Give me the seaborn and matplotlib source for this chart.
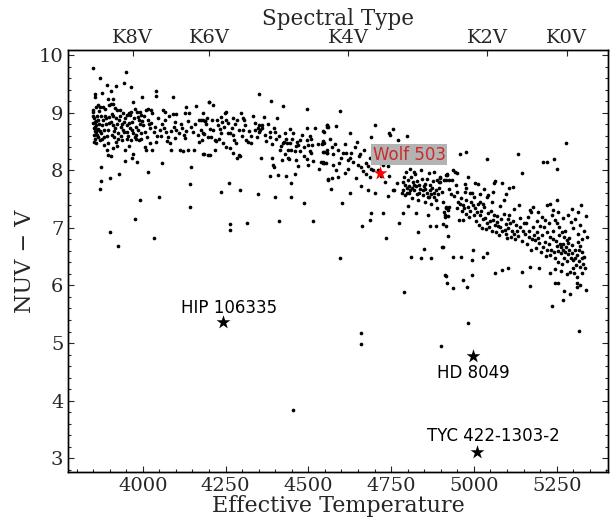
import numpy as np
import pandas as pd
import seaborn as sns
import matplotlib.pyplot as plt

# spectral type axis
spec_labels = ['K8V', 'K6V', 'K4V', 'K2V', 'K0V']
spec_teff = [3970, 4200, 4620, 5040, 5280]

# highlighted stars
named_stars = ['HIP 106335', 'HD 8049', 'TYC 422-1303-2']
named_teff = [4243, 4997, 5010]
named_nuv = [5.36, 4.78, 3.11]
wolf_teff = 4717
wolf_nuv = 7.96

# field stars (Teff, NUV-V)
stars_k8 = [
    (3851, 9.77), (3871, 9.61), (3948, 9.70), (3893, 9.49), (3918, 9.46), (3944, 9.51), (3965, 9.44),
    (3855, 9.33), (3876, 9.35), (3904, 9.38), (4039, 9.37), (4041, 9.29), (3997, 9.27), (4090, 9.27),
    (3971, 9.18), (3895, 9.24), (3911, 9.23), (3857, 9.27), (4131, 9.10), (4160, 9.11), (4199, 9.18),
    (3851, 9.04), (3849, 9.02), (3866, 9.13), (3871, 9.10), (3869, 9.03), (3881, 9.10), (3886, 9.06),
    (3897, 9.13), (3903, 9.16), (3911, 9.15), (3915, 9.09), (3921, 9.05), (3931, 9.05), (3939, 9.00),
    (3951, 8.96), (3959, 9.00), (3961, 8.96), (3963, 9.02), (3976, 9.06), (3983, 9.02), (3993, 9.02),
    (3996, 8.96), (4011, 9.05), (4016, 9.06), (4026, 9.05), (4029, 8.99), (4061, 9.05), (4066, 9.02),
    (4091, 8.98), (4101, 8.98), (4129, 9.00), (4141, 9.00), (4171, 8.88), (4181, 8.87), (4189, 8.86),
    (3853, 8.90), (3856, 8.84), (3859, 8.78), (3853, 8.73), (3861, 8.70), (3855, 8.76), (3866, 8.87),
    (3873, 8.94), (3881, 8.88), (3889, 8.80), (3899, 8.92), (3903, 8.84), (3909, 8.94), (3911, 8.78),
    (3916, 8.73), (3923, 8.81), (3929, 8.88), (3933, 8.76), (3939, 8.70), (3943, 8.84), (3951, 8.78),
    (3953, 8.67), (3961, 8.73), (3966, 8.84), (3971, 8.64), (3979, 8.76), (3986, 8.70), (3991, 8.80),
    (3999, 8.86), (4006, 8.67), (4016, 8.88), (4019, 8.81), (4021, 8.73), (4033, 8.67), (4051, 8.70),
    (4063, 8.73), (4071, 8.67), (4093, 8.76), (4101, 8.70), (4109, 8.65), (4119, 8.73), (4131, 8.69),
    (4146, 8.76), (4151, 8.67), (4166, 8.61), (4176, 8.70), (4186, 8.63), (4196, 8.58),
    (3859, 8.47), (3871, 8.52), (3876, 8.55), (3883, 8.44), (3891, 8.35), (3896, 8.26), (3903, 8.25),
    (3911, 8.38), (3919, 8.50), (3923, 8.42), (3936, 8.52), (3946, 8.35), (3951, 8.54), (3959, 8.42),
    (3969, 8.29), (3976, 8.57), (3981, 8.54), (3989, 8.52), (3996, 8.55), (4006, 8.40), (4011, 8.36),
    (4021, 8.47), (4029, 8.36), (4041, 8.50), (4073, 8.51), (4081, 8.48), (4086, 8.36), (4111, 8.35),
    (4121, 8.34), (4136, 8.36), (4156, 8.35), (4183, 8.28), (4196, 8.26), (3966, 8.21), (3946, 8.17),
    (3983, 8.15),
    (3852, 8.62), (3858, 8.66), (3864, 8.58), (3868, 8.80), (3862, 8.95), (3850, 8.82), (3857, 8.55),
    (3866, 8.72), (3875, 8.64), (3884, 8.70), (3892, 8.60), (3886, 8.95), (3896, 8.70), (3906, 8.62),
    (3914, 8.58), (3926, 8.64), (3934, 8.60), (3944, 8.66), (3956, 8.60), (3964, 8.52), (3974, 8.90),
    (3985, 8.92), (4001, 8.78), (4046, 8.90), (4056, 8.60), (4078, 8.94), (4096, 8.56), (4126, 8.56),
    (3850, 8.95), (3855, 8.68), (3860, 8.85), (3852, 8.50), (3863, 8.62), (3858, 9.10), (3870, 8.68),
    (3878, 8.78), (3882, 8.58), (3888, 8.90), (3894, 8.48), (3898, 8.82), (3906, 8.98), (3912, 8.68),
    (3918, 8.90), (3925, 8.55), (3930, 8.95), (3938, 8.80), (3947, 8.90), (3957, 8.82), (3968, 8.70),
    (3978, 8.62), (3988, 8.88), (3994, 8.64), (4004, 8.94), (4014, 8.58), (4026, 8.82), (4036, 8.75),
    (4044, 8.60), (4058, 8.80), (4068, 8.88), (4076, 8.58), (4086, 8.68), (4098, 8.84), (4114, 8.80),
    (4124, 8.62), (4138, 8.86), (4158, 8.80), (4170, 8.50),
]
stars_k8_low = [
    (3901, 6.92), (4035, 6.83), (3977, 7.16), (3992, 7.48), (4049, 7.54), (4143, 7.36), (4142, 7.77),
    (3870, 7.67), (3873, 7.81), (3873, 8.06), (3900, 7.86), (3927, 7.94), (4016, 7.97), (4058, 8.12),
    (4147, 8.06), (3925, 6.68),
]
stars_k6 = [
    (4201, 9.18), (4213, 9.14), (4351, 9.32), (4386, 9.21), (4422, 9.11), (4181, 8.99), (4195, 8.91),
    (4177, 8.87), (4187, 8.86), (4191, 8.80), (4210, 8.87), (4225, 8.87), (4237, 8.92), (4239, 8.84),
    (4251, 8.87), (4251, 9.01), (4249, 8.99), (4273, 8.90), (4285, 8.87), (4296, 8.99), (4303, 8.90),
    (4306, 8.87), (4333, 8.94), (4365, 8.93), (4351, 8.79), (4361, 8.79), (4355, 8.70), (4351, 8.66),
    (4405, 8.91), (4395, 8.73), (4398, 8.67), (4383, 8.67), (4383, 8.58), (4403, 8.54), (4373, 8.51),
    (4181, 8.65), (4178, 8.52), (4203, 8.71), (4213, 8.70), (4233, 8.71), (4235, 8.64), (4257, 8.65),
    (4263, 8.65), (4271, 8.61), (4207, 8.57), (4217, 8.52), (4221, 8.51), (4231, 8.55), (4243, 8.47),
    (4251, 8.41), (4263, 8.38), (4277, 8.52), (4281, 8.47), (4303, 8.70), (4321, 8.69), (4318, 8.50),
    (4328, 8.48), (4313, 8.52), (4338, 8.70), (4348, 8.73), (4361, 8.73), (4345, 8.57), (4273, 8.30),
    (4291, 8.26), (4285, 8.22), (4295, 8.25), (4219, 8.35), (4203, 8.26), (4185, 8.28), (4356, 8.22),
    (4389, 8.21), (4394, 8.09), (4396, 8.05), (4419, 8.18), (4414, 8.36), (4426, 8.49), (4432, 8.55),
    (4422, 8.47), (4436, 8.47), (4446, 8.71), (4454, 8.64), (4444, 8.47), (4466, 8.50), (4469, 8.44),
    (4474, 8.52), (4439, 8.35), (4449, 8.36), (4459, 8.34), (4439, 8.21), (4442, 8.19), (4469, 8.07),
    (4476, 8.34), (4497, 8.73), (4497, 9.06), (4521, 8.74), (4495, 8.52), (4505, 8.59), (4507, 8.54),
    (4510, 8.44), (4500, 8.44), (4505, 8.34), (4507, 8.30), (4495, 8.19), (4515, 8.17), (4500, 8.09),
    (4530, 8.45), (4543, 8.51), (4545, 8.48), (4555, 8.78), (4560, 8.76), (4547, 8.67), (4547, 8.32),
    (4555, 8.30), (4543, 8.15), (4547, 8.13), (4533, 8.03), (4560, 7.85),
    (4228, 8.78), (4246, 8.76), (4258, 8.82), (4268, 8.74), (4280, 8.80), (4290, 8.70), (4300, 8.60),
    (4310, 8.78), (4326, 8.60), (4340, 8.82), (4370, 8.62), (4378, 8.80), (4390, 8.45), (4410, 8.60),
    (4418, 8.42), (4430, 8.65), (4452, 8.55), (4462, 8.42), (4480, 8.62), (4486, 8.40), (4488, 8.24),
    (4464, 8.18), (4430, 8.28),
]
stars_k6_low = [
    (4383, 7.90), (4409, 7.92), (4432, 7.90), (4459, 7.93), (4447, 7.78), (4449, 7.54), (4399, 7.53),
    (4487, 7.44), (4349, 7.59), (4294, 7.66), (4235, 7.63), (4259, 7.78), (4314, 7.09), (4410, 7.12),
    (4515, 7.12), (4262, 7.07), (4262, 6.97), (4455, 3.84),
]
stars_k4 = [
    (4597, 9.03), (4555, 8.78), (4557, 8.76), (4583, 8.77), (4545, 8.68), (4625, 8.64), (4700, 8.79),
    (4755, 8.71), (4743, 8.64), (4747, 8.62), (4797, 8.59), (4770, 8.52), (4690, 8.57), (4647, 8.50),
    (4543, 8.50), (4547, 8.48), (4540, 8.46), (4570, 8.40), (4555, 8.35), (4543, 8.32), (4557, 8.30),
    (4575, 8.28), (4605, 8.30), (4615, 8.30), (4630, 8.30), (4655, 8.28), (4653, 8.25), (4600, 8.22),
    (4627, 8.21), (4635, 8.15), (4539, 8.15), (4545, 8.12), (4553, 8.13), (4575, 8.09), (4593, 8.12),
    (4620, 8.03), (4660, 8.06), (4673, 8.12), (4680, 8.07), (4690, 8.03), (4695, 8.00), (4665, 7.98),
    (4675, 7.93), (4687, 7.88), (4727, 8.09), (4740, 8.07), (4715, 8.12), (4560, 7.84), (4570, 7.86),
    (4590, 7.89), (4643, 7.86), (4627, 7.61), (4567, 7.67), (4660, 7.72), (4680, 7.66), (4601, 7.43),
    (4742, 7.55), (4767, 7.78), (4755, 7.66), (4760, 7.65), (4725, 7.25), (4690, 7.26), (4685, 7.14),
    (4663, 7.03), (4735, 6.83), (4597, 6.48), (4660, 5.17), (4660, 4.98),
    (4565, 8.55), (4580, 8.45), (4590, 8.35), (4610, 8.45), (4620, 8.18), (4640, 8.40), (4650, 8.10),
    (4668, 8.35), (4685, 8.22), (4700, 8.18), (4710, 8.00), (4720, 7.90), (4732, 7.80), (4745, 7.90),
    (4700, 7.60), (4612, 7.95), (4585, 8.00),
]
stars_k3 = [
    (4790, 8.22), (4790, 8.18), (4785, 8.15), (4817, 8.35), (4847, 8.35), (4847, 8.26), (4897, 8.15),
    (4807, 8.03), (4795, 7.97), (4820, 7.97), (4823, 7.93), (4840, 8.01), (4863, 7.95), (4880, 7.97),
    (4890, 7.83), (4897, 7.86), (4895, 7.80), (4910, 7.83), (4915, 7.92), (4920, 7.93),
    (4787, 7.80), (4793, 7.74), (4797, 7.70), (4803, 7.73), (4807, 7.66), (4797, 7.61), (4813, 7.70),
    (4820, 7.65), (4825, 7.73), (4827, 7.59), (4835, 7.61), (4845, 7.57), (4853, 7.77), (4853, 7.67),
    (4857, 7.60), (4863, 7.54), (4867, 7.65), (4875, 7.70), (4880, 7.60), (4787, 7.66), (4793, 7.57),
    (4783, 7.60), (4805, 7.60), (4815, 7.80), (4835, 7.74), (4847, 7.66), (4860, 7.53), (4885, 7.49),
    (4880, 7.54), (4800, 7.38), (4787, 7.26), (4825, 7.25), (4860, 7.22), (4890, 7.34), (4917, 7.36),
    (4923, 7.31), (4913, 7.22), (4773, 7.09), (4830, 6.92), (4867, 7.03), (4887, 7.03), (4907, 7.07),
    (4917, 7.03), (4903, 6.67), (4850, 6.63), (4810, 6.50), (4840, 6.47), (4870, 6.48), (4923, 6.86),
    (4913, 6.18), (4790, 5.88), (4900, 4.95),
    (4790, 7.88), (4800, 7.84), (4810, 7.88), (4818, 7.75), (4828, 7.82), (4838, 7.68), (4842, 7.85),
    (4850, 7.72), (4858, 7.85), (4866, 7.75), (4872, 7.58), (4878, 7.82), (4886, 7.66), (4892, 7.58),
    (4896, 7.70), (4870, 7.42), (4852, 7.45), (4832, 7.48), (4812, 7.52), (4905, 7.62), (4906, 7.45),
    (4932, 7.58), (4924, 7.68),
]
stars_k2 = [
    (4958, 8.28), (4977, 8.32), (5041, 8.19), (5134, 8.29), (5146, 7.96), (4936, 8.00), (4943, 7.97),
    (4950, 7.96), (4920, 7.92), (4916, 7.84), (4926, 7.84), (4933, 7.83), (4898, 7.80), (4898, 7.88),
    (4946, 7.74), (4973, 7.77), (4976, 7.70), (4972, 7.63), (4987, 7.60), (4994, 7.61), (4983, 7.89),
    (5004, 7.78), (5011, 7.77), (5064, 7.82), (5061, 7.78), (5084, 7.78), (5107, 7.70), (5117, 7.71),
    (5019, 7.45), (5029, 7.42), (5044, 7.57), (5039, 7.53), (4999, 7.54), (4991, 7.45),
    (4916, 7.35), (4910, 7.28), (4926, 7.37), (4913, 7.19), (4923, 7.20), (4953, 7.45), (4958, 7.41),
    (4950, 7.34), (4963, 7.30), (4970, 7.34), (4977, 7.24), (4984, 7.19), (4968, 7.13), (4956, 7.13),
    (5004, 7.34), (5009, 7.28), (5017, 7.22), (5027, 7.15), (5034, 7.18), (5039, 7.09), (5049, 7.12),
    (5057, 7.14), (5069, 7.11), (5064, 7.05), (5074, 7.03), (5079, 7.01), (5094, 6.96), (5104, 6.99),
    (5109, 7.08), (5104, 7.15), (5097, 6.90), (5111, 6.85), (5121, 6.89), (5131, 6.95), (5139, 7.01),
    (5150, 7.09), (5158, 7.08), (5162, 7.19), (5168, 7.31), (5172, 7.28), (5154, 6.89), (5165, 6.85),
    (5175, 6.80),
    (4938, 6.50), (4960, 6.49), (4994, 6.45), (4997, 6.61), (5039, 6.56), (5029, 6.50), (5064, 6.21),
    (5084, 6.27), (5104, 6.30), (5144, 6.24), (5170, 6.32), (5170, 5.99), (4983, 5.35), (4916, 6.16),
    (4918, 6.04), (4936, 5.95), (4968, 6.09), (4978, 5.98), (4906, 6.67), (4994, 6.18),
    (4940, 7.55), (4948, 7.62), (4962, 7.52), (4966, 7.40), (4975, 7.48), (4982, 7.36), (4988, 7.30),
    (4996, 7.40), (5000, 7.22), (5006, 7.12), (5012, 7.42), (5016, 7.05), (5022, 7.30), (5026, 7.00),
    (5032, 7.36), (5036, 6.98), (5042, 7.25), (5046, 7.02), (5052, 7.30), (5055, 6.95), (5060, 7.22),
    (5066, 6.92), (5071, 7.20), (5076, 6.88), (5082, 7.15), (5086, 6.94), (5090, 7.24), (5096, 7.06),
    (5100, 6.82), (5106, 7.22), (5114, 6.95), (5118, 7.12), (5124, 6.80), (5128, 7.05), (5134, 6.86),
    (5140, 7.18), (5144, 6.78), (5148, 6.95), (5056, 7.45), (5078, 7.38), (5092, 7.48), (5122, 7.32),
    (5136, 7.40), (5018, 7.58), (5030, 7.68), (5058, 7.62), (5098, 7.58),
]
stars_k0 = [
    (5210, 8.14), (5222, 8.14), (5242, 8.19), (5250, 8.03), (5278, 8.47),
    (5195, 7.28), (5205, 7.19), (5215, 7.13), (5220, 7.40), (5230, 7.42), (5240, 7.31), (5245, 7.13),
    (5252, 7.09), (5258, 7.01), (5265, 6.93), (5272, 6.85), (5280, 6.79), (5285, 6.73), (5278, 6.67),
    (5268, 6.61), (5260, 6.72), (5250, 6.68), (5240, 6.80), (5230, 6.85), (5222, 6.93), (5212, 7.01),
    (5200, 7.03), (5192, 6.93), (5185, 6.79), (5198, 6.73), (5210, 6.67), (5222, 6.61), (5230, 6.53),
    (5245, 6.47), (5255, 6.41), (5262, 6.56), (5272, 6.47), (5285, 6.55), (5295, 6.57), (5300, 6.44),
    (5310, 6.53), (5318, 6.61), (5326, 6.47), (5331, 6.38), (5321, 6.32), (5308, 6.35), (5298, 6.30),
    (5290, 6.24), (5302, 6.21), (5312, 6.15), (5326, 6.21), (5336, 6.30), (5341, 6.85), (5339, 7.20),
    (5313, 7.28), (5305, 7.15), (5300, 6.99), (5315, 6.90), (5326, 6.80), (5313, 6.76),
    (5198, 6.31), (5230, 6.22), (5245, 6.04), (5255, 6.05), (5272, 5.91), (5268, 5.75), (5290, 5.86),
    (5312, 5.98), (5320, 6.00), (5339, 5.92), (5235, 5.64), (5319, 5.21),
    (5160, 6.72), (5166, 6.95), (5172, 6.62), (5178, 7.02), (5182, 6.88), (5188, 6.65), (5194, 6.82),
    (5202, 6.58), (5206, 6.88), (5214, 6.75), (5218, 6.52), (5226, 6.72), (5234, 6.62), (5238, 6.95),
    (5242, 6.58), (5248, 6.78), (5254, 6.60), (5256, 6.88), (5262, 6.66), (5266, 6.38), (5270, 6.72),
    (5274, 6.58), (5276, 6.95), (5282, 6.42), (5286, 6.62), (5288, 6.82), (5292, 6.48), (5296, 6.70),
    (5304, 6.62), (5306, 6.48), (5316, 6.42), (5322, 6.68), (5328, 6.58), (5334, 6.50), (5332, 6.95),
    (5322, 7.05), (5292, 7.10), (5284, 7.22), (5268, 7.18), (5254, 7.28), (5236, 7.22), (5226, 7.08),
    (5190, 7.12), (5180, 7.36), (5250, 7.48), (5296, 7.32), (5325, 7.40), (5310, 6.05), (5280, 6.20),
    (5264, 6.25), (5246, 6.28),
]

field = pd.DataFrame(stars_k8 + stars_k8_low + stars_k6 + stars_k6_low + stars_k4
                     + stars_k3 + stars_k2 + stars_k0, columns=['teff', 'nuv_v'])
named = pd.DataFrame({'name': named_stars, 'teff': named_teff, 'nuv_v': named_nuv})

sns.set_theme(style='ticks')
plt.rcParams['font.family'] = ['DejaVu Serif']
plt.rcParams['xtick.direction'] = 'in'
plt.rcParams['ytick.direction'] = 'in'

fig = plt.figure(figsize=(6.13, 5.19), dpi=100)
ax = fig.add_axes([0.1114, 0.0906, 0.8804, 0.8131])

sns.scatterplot(data=field, x='teff', y='nuv_v', ax=ax, color='black', s=7,
                linewidth=0, legend=False)
sns.scatterplot(data=named, x='teff', y='nuv_v', ax=ax, color='black', marker='*',
                s=110, linewidth=0, legend=False)
ax.scatter([wolf_teff], [wolf_nuv], color='red', marker='*', s=110, linewidths=0, zorder=4)

offsets = {'HIP 106335': (6, 14), 'HD 8049': (0, -17), 'TYC 422-1303-2': (16, 16)}
for _, row in named.iterrows():
    dx, dy = offsets[row['name']]
    ax.annotate(row['name'], (row['teff'], row['nuv_v']), xytext=(dx * 0.72, dy * 0.72),
                textcoords='offset points', ha='center', va='center',
                fontsize=12, family='DejaVu Sans', color='black')
ax.annotate('Wolf 503', (wolf_teff, wolf_nuv), xytext=(29 * 0.72, 18 * 0.72),
            textcoords='offset points', ha='center', va='center', fontsize=12,
            family='DejaVu Sans', color='#cc2a2a',
            bbox=dict(boxstyle='square,pad=0.1', facecolor='#b3b3b3', edgecolor='none'))

ax.set_xlim(3775, 5405)
ax.set_ylim(2.76, 10.09)
ax.set_xticks([4000, 4250, 4500, 4750, 5000, 5250])
ax.set_yticks([3, 4, 5, 6, 7, 8, 9, 10])
ax.set_xticks(np.arange(3800, 5401, 50), minor=True)
ax.set_yticks(np.arange(2.8, 10.01, 0.2), minor=True)
ax.tick_params(which='both', right=True, top=False, labelsize=14, width=0.8)
ax.tick_params(which='major', length=4.5)
ax.tick_params(which='minor', length=2.5)
ax.set_xlabel('Effective Temperature', fontsize=16, labelpad=0)
ax.set_ylabel('NUV \u2212 V', fontsize=16, labelpad=2)

ax2 = ax.twiny()
ax2.set_xlim(ax.get_xlim())
ax2.set_xticks(spec_teff)
ax2.set_xticklabels(spec_labels)
ax2.tick_params(axis='x', which='major', direction='in', length=4.5, width=0.8,
                labelsize=14, pad=2)
ax2.set_xlabel('Spectral Type', fontsize=15.5, labelpad=3)

for a in (ax, ax2):
    for sp in a.spines.values():
        sp.set_linewidth(1.0)
        sp.set_color('black')

fig.savefig('out.png', dpi=100)
